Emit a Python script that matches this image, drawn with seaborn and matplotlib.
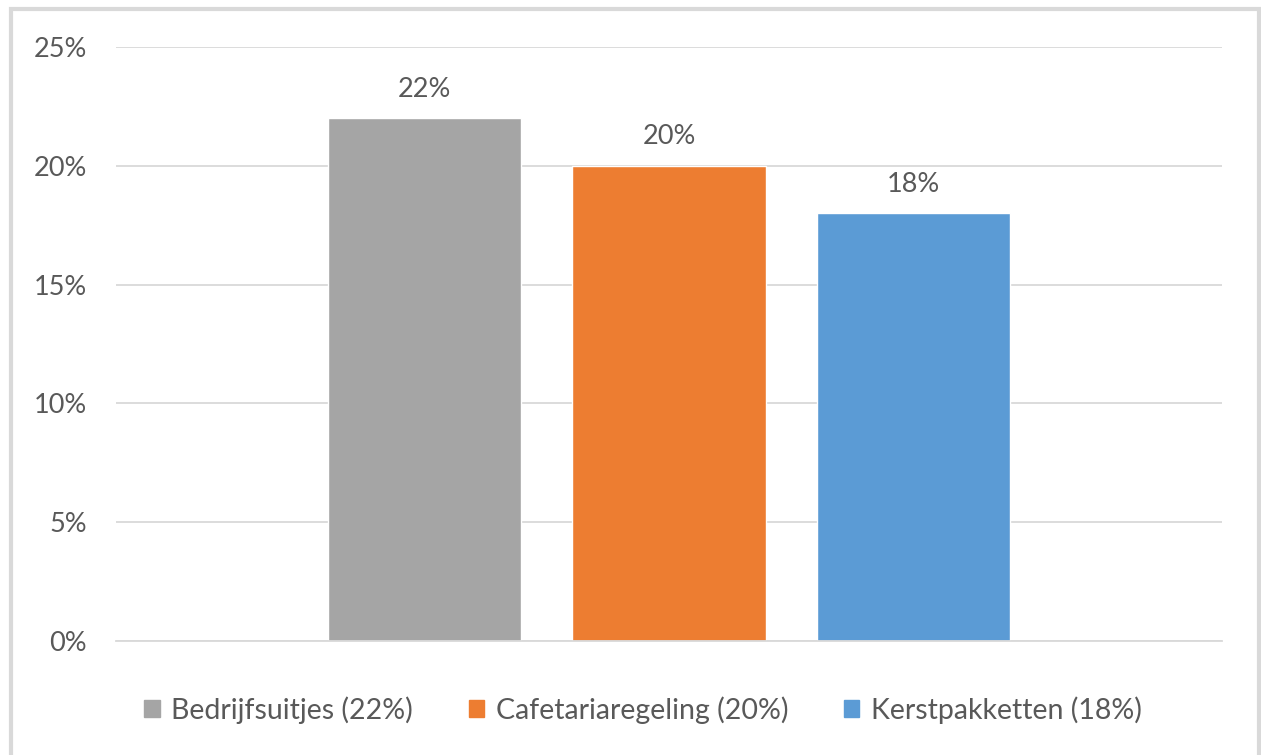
import pandas as pd
import matplotlib.pyplot as plt
import seaborn as sns
from matplotlib.patches import Rectangle
from matplotlib.ticker import FuncFormatter

series = ['Bedrijfsuitjes', 'Cafetariaregeling', 'Kerstpakketten']
values = [0.22, 0.20, 0.18]
colors = ['#A5A5A5', '#ED7D31', '#5B9BD5']
yticks = [0, 0.05, 0.10, 0.15, 0.20, 0.25]

df = pd.DataFrame({'cat': [''] * len(series), 'serie': series, 'waarde': values})

sns.set_style('white')
plt.rcParams['font.family'] = ['Lato', 'DejaVu Sans']
txt = '#595959'

fig = plt.figure(figsize=(12.61, 7.55), dpi=100)
ax = fig.add_axes([116 / 1261, 114 / 755, 1106 / 1261, 594 / 755])

sns.barplot(data=df, x='cat', y='waarde', hue='serie', palette=colors,
            width=0.663, gap=0.21, saturation=1, ax=ax, legend=False)

ax.set_xlim(-0.5, 0.5)
ax.set_ylim(0, 0.25)
ax.set_yticks(yticks)
ax.yaxis.set_major_formatter(FuncFormatter(lambda v, p: f'{v * 100:.0f}%'))
ax.grid(axis='y', color='#D9D9D9', linewidth=1.3)
ax.set_axisbelow(True)
for s in ax.spines.values():
    s.set_visible(False)
ax.spines['bottom'].set_visible(True)
ax.spines['bottom'].set_color('#D9D9D9')
ax.spines['bottom'].set_linewidth(1.3)
ax.set_xticks([])
ax.set_xlabel('')
ax.set_ylabel('')
ax.tick_params(axis='y', length=0, pad=21, labelsize=19.5, labelcolor=txt)

for bars in ax.containers:
    ax.bar_label(bars, labels=[f'{v * 100:.0f}%' for v in bars.datavalues],
                 padding=12, fontsize=19.5, color=txt)

handles = [Rectangle((0, 0), 1, 1, color=c) for c in colors]
labels = [f'{s} ({v * 100:.0f}%)' for s, v in zip(series, values)]
fig.legend(handles, labels, loc='center', bbox_to_anchor=(643 / 1261, 1 - 710 / 755),
           ncol=3, frameon=False, fontsize=20.5, labelcolor=txt,
           handlelength=0.55, handleheight=0.55, handletextpad=0.4, columnspacing=1.95)

fig.patches.append(Rectangle((11 / 1261, -0.1), (1259 - 11) / 1261, 1.1 - 9 / 755,
                             transform=fig.transFigure, fill=False,
                             edgecolor='#D9D9D9', linewidth=3))

fig.savefig('out.png', dpi=100)
